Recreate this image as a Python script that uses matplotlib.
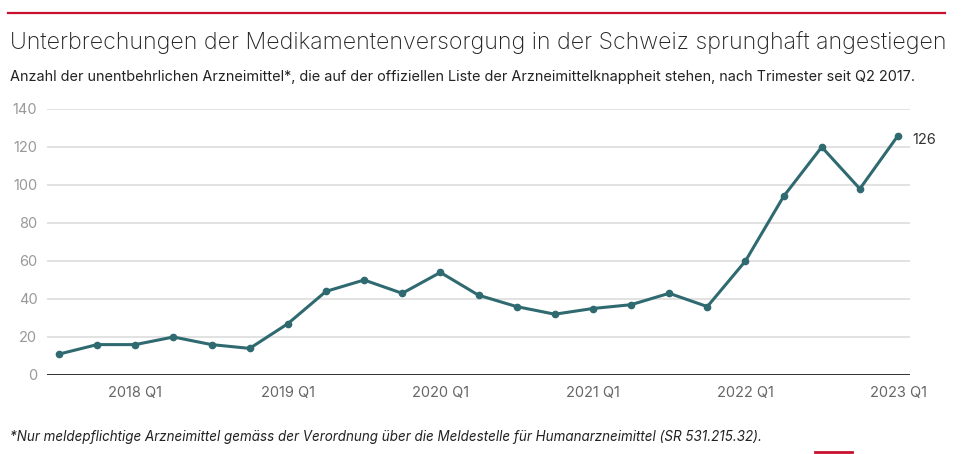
import matplotlib
matplotlib.use("Agg")
import matplotlib.pyplot as plt
from matplotlib.lines import Line2D

quarters = ["2017 Q3", "2017 Q4", "2018 Q1", "2018 Q2", "2018 Q3", "2018 Q4",
            "2019 Q1", "2019 Q2", "2019 Q3", "2019 Q4", "2020 Q1", "2020 Q2",
            "2020 Q3", "2020 Q4", "2021 Q1", "2021 Q2", "2021 Q3", "2021 Q4",
            "2022 Q1", "2022 Q2", "2022 Q3", "2022 Q4", "2023 Q1"]
values = [11, 16, 16, 20, 16, 14, 27, 44, 50, 43, 54, 42, 36, 32, 35, 37, 43, 36,
          60, 94, 120, 98, 126]
tick_labels = ["2018 Q1", "2019 Q1", "2020 Q1", "2021 Q1", "2022 Q1", "2023 Q1"]
y_ticks = [0, 20, 40, 60, 80, 100, 120, 140]

title = "Unterbrechungen der Medikamentenversorgung in der Schweiz sprunghaft angestiegen"
subtitle = ("Anzahl der unentbehrlichen Arzneimittel*, die auf der offiziellen Liste der "
            "Arzneimittelknappheit stehen, nach Trimester seit Q2 2017.")
footnote = ("*Nur meldepflichtige Arzneimittel gemäss der Verordnung über die Meldestelle "
            "für Humanarzneimittel (SR 531.215.32).")

plt.rcParams['font.family'] = ['Inter', 'DejaVu Sans']

W, H = 967, 454
fig = plt.figure(figsize=(W / 100, H / 100), dpi=100)
fig.patch.set_facecolor("white")

ax = fig.add_axes([47 / W, (H - 375) / H, (910 - 47) / W, (375 - 109) / H])
x = list(range(len(values)))
line_color = "#2f6a70"
ax.plot(x, values, color=line_color, lw=2.2, marker="o", ms=4.5, zorder=3,
        solid_joinstyle="round")
ax.set_xlim(-12 / 38.14, 22 + 12 / 38.14)
ax.set_ylim(0, 140)
ax.set_yticks(y_ticks)
ax.set_yticklabels([str(v) for v in y_ticks])
for yv in y_ticks[1:]:
    ax.axhline(yv, color="#dddddd", lw=1.2, zorder=1)
ax.axhline(0, color="#222222", lw=1.3, zorder=2)
for s in ax.spines.values():
    s.set_visible(False)
tick_pos = [quarters.index(t) for t in tick_labels]
ax.set_xticks(tick_pos)
ax.set_xticklabels(tick_labels)
ax.tick_params(axis="x", length=0, pad=8, labelsize=10.5, labelcolor="#666666")
ax.tick_params(axis="y", length=0, pad=7, labelsize=10.5, labelcolor="#999999")
ax.annotate(str(values[-1]), xy=(x[-1], values[-1]), xytext=(10, -3.5),
            textcoords="offset points", fontsize=10.5, color="#333333",
            va="center", ha="left")

fig.add_artist(Line2D([8 / W, 945 / W], [(H - 13) / H] * 2, color="#c8102e", lw=1.6))
fig.text(10 / W, (H - 43) / H, title, fontsize=16.7, color="#222222", va="center",
         ha="left", fontweight="light")
fig.text(10 / W, (H - 77) / H, subtitle, fontsize=10.4, color="#222222",
         va="center", ha="left")
fig.text(10 / W, (H - 437) / H, footnote, fontsize=9.67, color="#222222",
         va="center", ha="left", style="italic")
fig.add_artist(Line2D([815 / W, 852 / W], [(H - 452) / H] * 2, color="#c8102e", lw=2))

fig.savefig("out.png", dpi=100)
